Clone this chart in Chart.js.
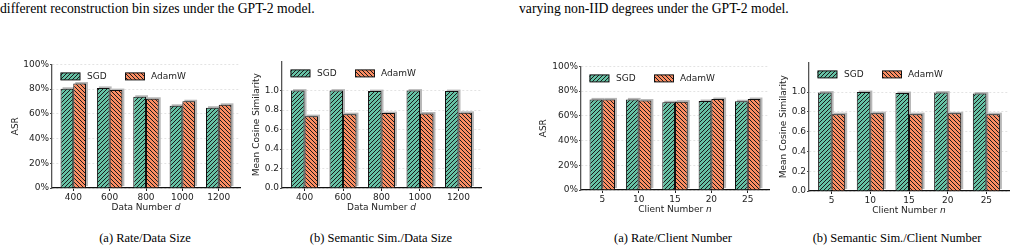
<!DOCTYPE html>
<html><head><meta charset="utf-8">
<script src="https://cdn.jsdelivr.net/npm/chart.js@4.4.1/dist/chart.umd.min.js"></script>
<style>
body{margin:0;background:#fff;}
#wrap{position:relative;width:1016px;height:251px;overflow:hidden;background:#fff;}
canvas{position:absolute;}
.cap{position:absolute;font-family:"Liberation Serif","Times New Roman",serif;color:#000;white-space:nowrap;line-height:1;}
.sub{font-size:12.5px;transform:translateX(-50%);}
</style></head><body>
<div id="wrap">
<div class="cap" style="left:0;top:2px;font-size:13.7px">different reconstruction bin sizes under the GPT-2 model.</div>
<div class="cap" style="left:519px;top:2px;font-size:13.7px">varying non-IID degrees under the GPT-2 model.</div>
<canvas id="c1"></canvas><canvas id="c2"></canvas><canvas id="c3"></canvas><canvas id="c4"></canvas>
<div class="cap sub" style="left:145px;top:232px">(a) Rate/Data Size</div>
<div class="cap sub" style="left:381px;top:232px">(b) Semantic Sim./Data Size</div>
<div class="cap sub" style="left:673px;top:232px">(a) Rate/Client Number</div>
<div class="cap sub" style="left:897px;top:232px">(b) Semantic Sim./Client Number</div>
</div>
<script>
// ---- data ----
const dataNumbers = ['400', '600', '800', '1000', '1200'];
const clientNumbers = ['5', '10', '15', '20', '25'];
const seriesNames = ['SGD', 'AdamW'];
const asrDataSGD = [80.3, 81.0, 73.8, 66.5, 65.0];
const asrDataAdamW = [84.5, 79.2, 72.2, 70.2, 67.3];
const simDataSGD = [1.0, 1.0, 0.995, 1.0, 0.995];
const simDataAdamW = [0.738, 0.758, 0.769, 0.765, 0.772];
const asrClientSGD = [73.3, 73.3, 71.0, 72.0, 71.8];
const asrClientAdamW = [73.3, 72.4, 71.5, 73.6, 73.6];
const simClientSGD = [0.995, 1.0, 0.99, 0.995, 0.985];
const simClientAdamW = [0.777, 0.787, 0.777, 0.785, 0.777];
const pctTickValues = [0, 20, 40, 60, 80, 100];
const simTickValues = [0, 0.2, 0.4, 0.6, 0.8, 1.0];

const COLORS = ['#66c2a5', '#fc8d62'];
const FONT = '"DejaVu Sans", sans-serif';
const TXT = '#222';

function hatch(ctx, color, dir) {
  const s = 4;
  const c = document.createElement('canvas'); c.width = s; c.height = s;
  const g = c.getContext('2d');
  g.fillStyle = color; g.fillRect(0, 0, s, s);
  g.strokeStyle = '#1a1a1a'; g.lineWidth = 1.0;
  g.beginPath();
  if (dir > 0) {
    g.moveTo(-1, s + 1); g.lineTo(s + 1, -1);
    g.moveTo(-1, 1); g.lineTo(1, -1);
    g.moveTo(s - 1, s + 1); g.lineTo(s + 1, s - 1);
  } else {
    g.moveTo(-1, -1); g.lineTo(s + 1, s + 1);
    g.moveTo(s - 1, -1); g.lineTo(s + 1, 1);
    g.moveTo(-1, s - 1); g.lineTo(1, s + 1);
  }
  g.stroke();
  return ctx.createPattern(c, 'repeat');
}

const shadowPlugin = {
  id: 'shadow',
  beforeDatasetsDraw(chart) {
    const ctx = chart.ctx;
    ctx.save();
    ctx.fillStyle = '#b8b8b8';
    chart.data.datasets.forEach((ds, i) => {
      chart.getDatasetMeta(i).data.forEach(el => {
        const p = el.getProps(['x', 'y', 'base', 'width'], true);
        ctx.fillRect(p.x - p.width / 2 + 2, p.y - 1.5, p.width, p.base - p.y);
      });
    });
    ctx.restore();
  }
};

const legendPlugin = {
  id: 'inlegend',
  afterDraw(chart) {
    const ctx = chart.ctx, a = chart.chartArea;
    const cy = a.top + 12;
    const items = [[a.left + 8.5, a.left + 35], [a.left + 73, a.left + 99]];
    ctx.save();
    chart.data.datasets.forEach((ds, i) => {
      const [px, tx] = items[i];
      ctx.fillStyle = ds.backgroundColor;
      ctx.fillRect(px, cy - 3.5, 19.5, 7);
      ctx.strokeStyle = '#111'; ctx.lineWidth = 1;
      ctx.strokeRect(px + 0.5, cy - 3.5, 19, 7);
      ctx.fillStyle = TXT;
      ctx.font = '9px ' + FONT;
      ctx.textBaseline = 'middle';
      ctx.textAlign = 'left';
      ctx.fillText(ds.label, tx, cy + 0.5);
    });
    ctx.restore();
  }
};

const xTitlePlugin = {
  id: 'xtitle',
  afterDraw(chart, args, opts) {
    const ctx = chart.ctx, a = chart.chartArea;
    const cx = (a.left + a.right) / 2, cy = a.bottom + 19.8;
    ctx.save();
    ctx.fillStyle = TXT;
    ctx.textBaseline = 'middle';
    ctx.textAlign = 'left';
    ctx.font = '9px ' + FONT;
    const w1 = ctx.measureText(opts.main).width;
    ctx.font = 'italic 9px ' + FONT;
    const w2 = ctx.measureText(opts.v).width;
    let x = cx - (w1 + w2) / 2;
    ctx.font = '9px ' + FONT;
    ctx.fillText(opts.main, x, cy);
    ctx.font = 'italic 9px ' + FONT;
    ctx.fillText(opts.v, x + w1, cy);
    ctx.restore();
  }
};

function makePanel(id, geo, labels, sgd, adamw, kind, yTitle, xMain, xVar) {
  const cv = document.getElementById(id);
  const padTop = 6, padRight = 6, hx = 30;
  const cl = geo.L - geo.wy, ct = geo.T - padTop;
  cv.width = geo.wy + (geo.R - geo.L) + padRight;
  cv.height = padTop + (geo.B - geo.T) + hx;
  cv.style.left = cl + 'px'; cv.style.top = ct + 'px';
  cv.style.width = cv.width + 'px'; cv.style.height = cv.height + 'px';
  const ctx = cv.getContext('2d');
  const isPct = kind === 'pct';
  const tickVals = isPct ? pctTickValues : simTickValues;
  const series = [sgd, adamw];
  return new Chart(ctx, {
    type: 'bar',
    data: {
      datasets: series.map((vals, i) => ({
        label: seriesNames[i],
        data: vals.map((v, j) => ({x: j, y: v})),
        backgroundColor: hatch(ctx, COLORS[i], i === 0 ? 1 : -1),
        borderColor: '#111',
        borderWidth: 1,
        categoryPercentage: 0.7,
        barPercentage: 1.0
      }))
    },
    options: {
      responsive: false,
      animation: false,
      devicePixelRatio: 1,
      layout: {padding: {top: padTop, right: padRight, left: 0, bottom: 0}},
      plugins: {legend: {display: false}, tooltip: {enabled: false}, xtitle: {main: xMain, v: xVar}},
      scales: {
        x: {
          type: 'linear',
          offset: false,
          min: -0.585, max: labels.length - 1 + 0.585,
          afterFit(s) { s.height = hx; },
          afterBuildTicks(s) { s.ticks = labels.map((l, j) => ({value: j})); },
          grid: {offset: false, drawOnChartArea: false, drawTicks: true, tickLength: 3, tickColor: '#222', tickWidth: 1},
          border: {color: '#111', width: 1.3},
          ticks: {autoSkip: false, maxRotation: 0, padding: 1,
            color: TXT, font: {family: FONT, size: 9},
            callback: v => labels[v]}
        },
        y: {
          type: 'linear',
          min: 0, max: isPct ? 100 : 1.3,
          afterFit(s) { s.width = geo.wy; },
          afterBuildTicks(s) { s.ticks = tickVals.map(v => ({value: v})); },
          grid: {color: '#dcdcdc', lineWidth: 0.8, drawTicks: true, tickLength: 2, tickColor: '#444', tickWidth: 1},
          border: {color: '#555', width: 1.3, dash: [2, 2]},
          title: {display: true, text: yTitle, color: TXT, font: {family: FONT, size: 9}, padding: 0},
          ticks: {padding: 1, color: TXT, font: {family: FONT, size: 9},
            callback: v => isPct ? v + '%' : v.toFixed(1)}
        }
      }
    },
    plugins: [shadowPlugin, legendPlugin, xTitlePlugin]
  });
}

makePanel('c1', {L: 52, R: 240, T: 64, B: 188, wy: 42}, dataNumbers, asrDataSGD, asrDataAdamW, 'pct', 'ASR', 'Data Number ', 'd');
makePanel('c2', {L: 282, R: 481, T: 61, B: 188, wy: 31}, dataNumbers, simDataSGD, simDataAdamW, 'sim', 'Mean Cosine Similarity', 'Data Number ', 'd');
makePanel('c3', {L: 581, R: 769, T: 66, B: 190, wy: 43}, clientNumbers, asrClientSGD, asrClientAdamW, 'pct', 'ASR', 'Client Number ', 'n');
makePanel('c4', {L: 809, R: 1009, T: 62, B: 191, wy: 31}, clientNumbers, simClientSGD, simClientAdamW, 'sim', 'Mean Cosine Similarity', 'Client Number ', 'n');
</script>
</body></html>
